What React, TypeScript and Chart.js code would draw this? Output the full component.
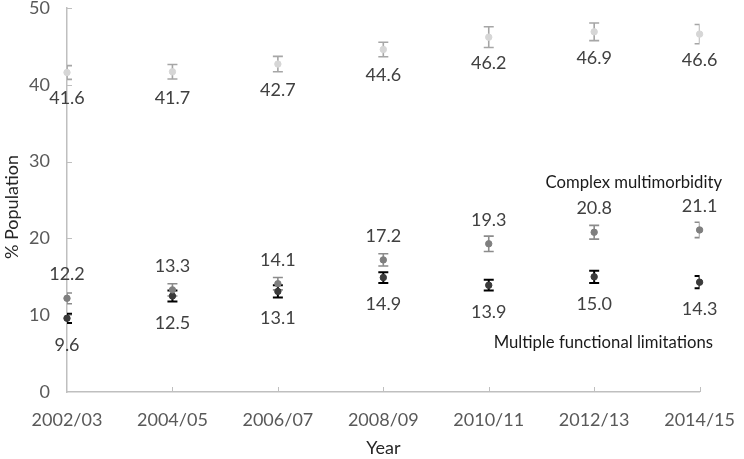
import React, { useEffect, useRef } from "react";
import { Chart, registerables } from "chart.js";

Chart.register(...registerables);

const years = ["2002/03", "2004/05", "2006/07", "2008/09", "2010/11", "2012/13", "2014/15"];
const allValues = [41.6, 41.7, 42.7, 44.6, 46.2, 46.9, 46.6];
const allErr = [0.9, 0.95, 1.0, 0.95, 1.35, 1.15, 1.25];
const complexValues = [12.2, 13.3, 14.1, 17.2, 19.3, 20.8, 21.1];
const complexErr = [0.7, 0.8, 0.8, 0.8, 1.0, 0.9, 1.0];
const functionalValues = [9.6, 12.5, 13.1, 14.9, 13.9, 15.0, 14.3];
const functionalErr = [0.6, 0.7, 0.8, 0.7, 0.7, 0.8, 0.8];
const yTicks = [0, 10, 20, 30, 40, 50];

const FONT = "Lato, 'Open Sans', sans-serif";

const errs = [allErr, complexErr, functionalErr];
const errColors = ["#a6a6a6", "#8c8c8c", "#000000"];
const labelOffsets = [26, -24, 27];

const overlay = {
  id: "overlay",
  beforeDatasetsDraw(chart: any) {
    const { ctx, chartArea } = chart;
    const ys = chart.scales.y;
    const xs = chart.scales.x;
    ctx.save();
    ctx.font = `18px ${FONT}`;
    ctx.fillStyle = "#595959";
    ctx.textAlign = "right";
    ctx.textBaseline = "middle";
    ctx.strokeStyle = "#bfbfbf";
    ctx.lineWidth = 1;
    yTicks.forEach((v) => {
      const y = ys.getPixelForValue(v);
      ctx.fillText(String(v), chartArea.left - 17, y);
      if (v > 0) {
        ctx.beginPath();
        ctx.moveTo(chartArea.left, Math.round(y) + 0.5);
        ctx.lineTo(chartArea.left + 5, Math.round(y) + 0.5);
        ctx.stroke();
      }
    });
    years.forEach((_, i) => {
      if (i === 0) return;
      const x = Math.round(xs.getPixelForValue(i)) + 0.5;
      ctx.beginPath();
      ctx.moveTo(x, chartArea.bottom);
      ctx.lineTo(x, chartArea.bottom - 5);
      ctx.stroke();
    });
    ctx.beginPath();
    ctx.rect(chartArea.left, chartArea.top - 2, chartArea.right - chartArea.left, chartArea.bottom - chartArea.top + 4);
    ctx.clip();
    chart.data.datasets.forEach((ds: any, di: number) => {
      const meta = chart.getDatasetMeta(di);
      ctx.strokeStyle = errColors[di];
      ctx.lineWidth = di === 2 ? 2 : 1.6;
      meta.data.forEach((pt: any, i: number) => {
        const v = ds.data[i];
        const e = errs[di][i];
        const y1 = ys.getPixelForValue(v + e);
        const y2 = ys.getPixelForValue(v - e);
        const x = pt.x;
        ctx.beginPath();
        ctx.moveTo(x, y1);
        ctx.lineTo(x, y2);
        ctx.moveTo(x - 5, y1);
        ctx.lineTo(x + 5, y1);
        ctx.moveTo(x - 5, y2);
        ctx.lineTo(x + 5, y2);
        ctx.stroke();
      });
    });
    ctx.restore();
  },
  afterDatasetsDraw(chart: any) {
    const { ctx, chartArea } = chart;
    ctx.save();
    ctx.font = `18px ${FONT}`;
    ctx.fillStyle = "#404040";
    ctx.textAlign = "center";
    ctx.textBaseline = "middle";
    chart.data.datasets.forEach((ds: any, di: number) => {
      const meta = chart.getDatasetMeta(di);
      meta.data.forEach((pt: any, i: number) => {
        ctx.fillText(ds.data[i].toFixed(1), pt.x, pt.y + labelOffsets[di]);
      });
    });
    ctx.fillStyle = "#1a1a1a";
    ctx.font = `16.7px ${FONT}`;
    ctx.textAlign = "right";
    ctx.fillText("Complex multimorbidity", 722, 183);
    ctx.fillText("Multiple functional limitations", 713, 343);
    ctx.font = `18px ${FONT}`;
    ctx.fillStyle = "#262626";
    ctx.textAlign = "center";
    ctx.fillText("Year", (chartArea.left + chartArea.right) / 2, 448);
    ctx.translate(12, 207);
    ctx.rotate(-Math.PI / 2);
    ctx.fillText("% Population", 0, 0);
    ctx.restore();
  },
};

export default function App() {
  const ref = useRef<HTMLCanvasElement>(null);
  useEffect(() => {
    document.body.style.margin = "0";
    const chart = new Chart(ref.current!, {
      type: "line",
      data: {
        labels: years,
        datasets: [
          {
            label: "All",
            data: allValues,
            showLine: false,
            pointRadius: 3.2,
            pointStyle: "circle",
            pointBackgroundColor: "#d6d6d6",
            pointBorderColor: "#d6d6d6",
          },
          {
            label: "Complex multimorbidity",
            data: complexValues,
            showLine: false,
            pointRadius: 3.2,
            pointStyle: "circle",
            pointBackgroundColor: "#7f7f7f",
            pointBorderColor: "#7f7f7f",
          },
          {
            label: "Multiple functional limitations",
            data: functionalValues,
            showLine: false,
            pointRadius: 3.2,
            pointStyle: "circle",
            pointBackgroundColor: "#3a3a3a",
            pointBorderColor: "#3a3a3a",
          },
        ],
      },
      options: {
        animation: false,
        responsive: false,
        maintainAspectRatio: false,
        layout: { padding: { top: 8, right: 37, left: 0, bottom: 0 } },
        plugins: { legend: { display: false }, tooltip: { enabled: false } },
        scales: {
          x: {
            type: "category",
            offset: false,
            grid: { display: false },
            border: { display: true, color: "#bfbfbf", width: 1.5 },
            ticks: { color: "#595959", font: { size: 18, family: FONT }, padding: 9, maxRotation: 0, autoSkip: false },
            afterFit(s: any) { s.height = 67; },
          },
          y: {
            min: 0,
            max: 50,
            afterBuildTicks(s: any) { s.ticks = yTicks.map((v) => ({ value: v })); },
            grid: { display: false },
            border: { display: true, color: "#bfbfbf", width: 1.5 },
            ticks: { display: false },
            afterFit(s: any) { s.width = 67; },
          },
        },
      },
      plugins: [overlay],
    });
    return () => chart.destroy();
  }, []);
  return <canvas ref={ref} width={744} height={459} style={{ display: "block" }} />;
}
